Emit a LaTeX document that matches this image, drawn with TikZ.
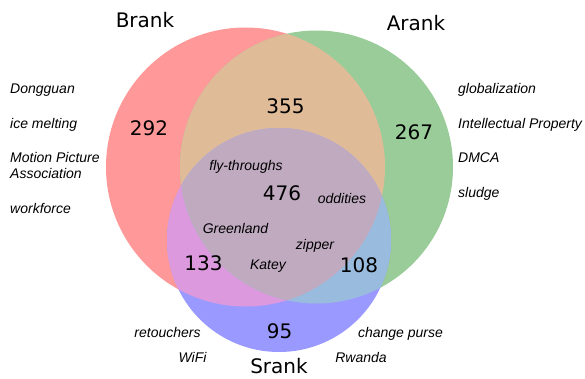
\documentclass[tikz,border=0pt]{standalone}
\usepackage{fontspec}
\setmainfont{DejaVu Sans}
\newfontfamily\wordfont{Liberation Sans}
\definecolor{bcol}{HTML}{FF9999}
\definecolor{acol}{HTML}{99CC99}
\definecolor{scol}{HTML}{9999FF}
\definecolor{bacol}{HTML}{DFBB98}
\definecolor{bscol}{HTML}{DD99DD}
\definecolor{ascol}{HTML}{99BBDD}
\definecolor{bascol}{HTML}{C0AAC0}
\tikzset{
  setname/.style={anchor=base,inner sep=0pt,font=\fontsize{20}{24}\selectfont},
  count/.style={anchor=base,inner sep=0pt,font=\fontsize{20}{24}\selectfont},
  word/.style={anchor=base,inner sep=0pt,font=\wordfont\itshape\fontsize{14}{17}\selectfont},
  wordl/.style={word,anchor=base west}
}
\begin{document}
\begin{tikzpicture}[x=1pt,y=-1pt]
\useasboundingbox (0,0) rectangle (585,378);

% circles
\def\brank{(245.5,167) circle [radius=139.5pt]}
\def\arank{(316.5,167) circle [radius=136.5pt]}
\def\srank{(279,240) circle [radius=112pt]}
\fill[bcol] \brank;
\fill[acol] \arank;
\fill[scol] \srank;
\begin{scope}
\clip \brank;
\fill[bacol] \arank;
\end{scope}
\begin{scope}
\clip \brank;
\fill[bscol] \srank;
\end{scope}
\begin{scope}
\clip \arank;
\fill[ascol] \srank;
\end{scope}
\begin{scope}
\clip \brank;
\clip \arank;
\fill[bascol] \srank;
\end{scope}

% set names
\node[setname] (bname) at (145,27.5) {Brank};
\node[setname] (aname) at (416,30.5) {Arank};
\node[setname] (sname) at (279,373) {Srank};

% counts
\node[count] (nb) at (149,135) {292};
\node[count] (nba) at (285.5,113) {355};
\node[count] (na) at (414,139) {267};
\node[count] (nbas) at (282,200) {476};
\node[count] (nbs) at (203.5,270) {133};
\node[count] (nas) at (359,272) {108};
\node[count] (ns) at (279.5,338) {95};

% words outside
\node[wordl] (w1) at (10,93) {Dongguan};
\node[wordl] (w2) at (10,128) {ice melting};
\node[wordl] (w3) at (10,162) {Motion Picture};
\node[wordl] (w4) at (10,178) {Association};
\node[wordl] (w5) at (10,213) {workforce};
\node[wordl] (w6) at (458,93) {globalization};
\node[wordl] (w7) at (458,128) {Intellectual Property};
\node[wordl] (w8) at (458,162) {DMCA};
\node[wordl] (w9) at (458,197) {sludge};

% words inside
\node[word] (w10) at (246,170) {fly-throughs};
\node[word] (w11) at (342,203) {oddities};
\node[word] (w12) at (235.5,233) {Greenland};
\node[word] (w13) at (315,249) {zipper};
\node[word] (w14) at (268,269) {Katey};
\node[word] (w15) at (167.5,337) {retouchers};
\node[word] (w16) at (192.5,362) {WiFi};
\node[word] (w17) at (400.5,337) {change purse};
\node[word] (w18) at (361,362) {Rwanda};

\end{tikzpicture}
\end{document}
